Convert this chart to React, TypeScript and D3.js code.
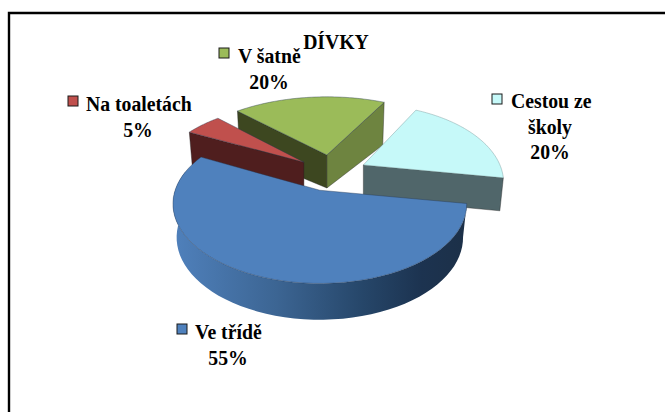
import * as d3 from "d3";

const places = ["Ve třídě", "Na toaletách", "V šatně", "Cestou ze školy"];
const shares = [55, 5, 20, 20];

const topColors = ["#4f81bd", "#c0504d", "#9bbb59", "#c6f9f9"];
const startWallColors = ["none", "#4f1e1e", "#3d4720", "none"];
const endWallColors = ["none", "none", "#6e8440", "#50666a"];

// label layout, same order as places
const labelLines = [["Ve třídě"], ["Na toaletách"], ["V šatně"], ["Cestou ze", "školy"]];
const labelX = [228, 138, 269, 550];
const labelY = [339, 111, 63, 108];
const keyX = [177, 68, 219, 492];
const keyY = [324, 96, 48, 94];
// x of the first text line, it sits right of the key square
const firstLineX = [195, 86, 238, 511];

// the 3d look differs a bit from slice to slice in the original
const tilts = [0.54, 0.5, 0.5, 0.52];
const persps = [0.0012, 0.0016, 0.0016, 0.0016];
const widthScale = [1.012, 1, 1.04, 0.955];
const depthPow = [0.5, 0, -1.4, 0];
const nudgeX = [-1, 0, 0, 0];

const W = 665;
const H = 412;
const cx = 332;
const cy = 173;
const R = 143;
const depth = 33;
const explode = 35;
const rad = Math.PI / 180;
const squeeze = 0.94; // labels are narrow and tall in the original

const pie = d3.pie<number>().sort(null).startAngle(99.6 * rad).endAngle(459.6 * rad);
const line = d3.line();

const Label = ({ x, y, anchor, children }: any) => (
  <text transform={`translate(${x},${y}) scale(${squeeze},1)`} textAnchor={anchor}>
    {children}
  </text>
);

export default function App() {
  const arcs = pie(shares);

  const slices = arcs.map((a, i) => {
    // d3 angles start at 12 o'clock
    const a0 = a.startAngle - Math.PI / 2;
    const a1 = a.endAngle - Math.PI / 2;
    const mid = (a0 + a1) / 2;
    const ax = cx + explode * Math.cos(mid) + nudgeX[i];
    const ay = cy + explode * Math.sin(mid) * 0.52;

    const project = (ang: number, r: number) => {
      const X = r * Math.cos(ang) * widthScale[i];
      const Y = r * Math.sin(ang);
      const s = 1 / (1 - persps[i] * Y);
      return { X, Y, s };
    };
    const top = (ang: number, r = R): [number, number] => {
      const { X, Y, s } = project(ang, r);
      return [ax + X * s, ay + Y * tilts[i] * s];
    };
    const bottom = (ang: number, r = R): [number, number] => {
      const { X, Y, s } = project(ang, r);
      return [ax + X * s * 0.975, ay + Y * tilts[i] * s + depth * Math.pow(s, depthPow[i])];
    };

    const steps = d3.range(0, 61).map((k) => a0 + ((a1 - a0) * k) / 60);
    const topPath = line([[ax, ay], ...steps.map((t) => top(t))]) + "Z";
    const startWall = line([[ax, ay], top(a0), bottom(a0), bottom(a0, 0)]) + "Z";
    const endWall = line([[ax, ay], top(a1), bottom(a1), bottom(a1, 0)]) + "Z";
    const outerSteps = steps.filter((t) => Math.sin(t) > -0.25);
    const outerWall =
      line([...outerSteps.map((t) => top(t)), ...outerSteps.slice().reverse().map((t) => bottom(t))]) + "Z";
    return { i, topPath, startWall, endWall, outerWall };
  });

  // back to front
  const drawOrder = [2, 3, 1, 0];

  return (
    <svg
      width={W}
      height={H}
      style={{ position: "absolute", left: 0, top: 0, background: "#fff" }}
      fontFamily="'Liberation Serif', serif"
      fontWeight="bold"
      fontSize={21}
    >
      <defs>
        <linearGradient id="blueWall" gradientUnits="userSpaceOnUse" x1={175} x2={465} y1={0} y2={0}>
          <stop offset="0" stopColor="#4f80bb" />
          <stop offset="0.35" stopColor="#3c6593" />
          <stop offset="0.65" stopColor="#264669" />
          <stop offset="0.85" stopColor="#1c3350" />
          <stop offset="1" stopColor="#1c3048" />
        </linearGradient>
      </defs>

      <path d={`M9 ${H}V13H${W}`} fill="none" stroke="#000" strokeWidth={2.4} />

      {drawOrder.map((i) => {
        const s = slices[i];
        return (
          <g key={places[i]}>
            {startWallColors[i] !== "none" && (
              <path d={s.startWall} fill={startWallColors[i]} stroke="#222" strokeWidth={0.4} />
            )}
            {endWallColors[i] !== "none" && (
              <path d={s.endWall} fill={endWallColors[i]} stroke="#222" strokeWidth={0.4} />
            )}
            {i === 0 && <path d={s.outerWall} fill="url(#blueWall)" />}
            <path d={s.topPath} fill={topColors[i]} stroke={i === 3 ? "#6f8f90" : "#26384f"} strokeWidth={0.5} strokeOpacity={0.8} />
          </g>
        );
      })}

      <Label x={336} y={49} anchor="middle">DÍVKY</Label>

      {places.map((p, i) => {
        const lines = labelLines[i];
        return (
          <g key={p}>
            <rect x={keyX[i]} y={keyY[i]} width={10} height={10} fill={topColors[i]} stroke="#1a1a1a" strokeWidth={1} />
            <Label x={firstLineX[i]} y={labelY[i]} anchor="start">{lines[0]}</Label>
            {lines.slice(1).map((l, k) => (
              <Label key={l} x={labelX[i]} y={labelY[i] + 25.5 * (k + 1)} anchor="middle">{l}</Label>
            ))}
            <Label x={labelX[i]} y={labelY[i] + 25.5 * lines.length} anchor="middle">{shares[i]}%</Label>
          </g>
        );
      })}
    </svg>
  );
}
